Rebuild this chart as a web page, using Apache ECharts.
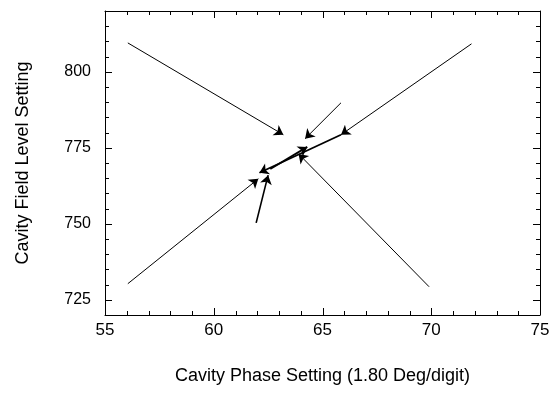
<!DOCTYPE html>
<html>
<head>
<meta charset="utf-8">
<script src="https://cdn.jsdelivr.net/npm/echarts@6/dist/echarts.min.js"></script>
<style>html,body{margin:0;padding:0;background:#fff}#c{width:555px;height:393px}</style>
</head>
<body>
<div id="c"></div>
<script>
// Arrow start/end points (phase setting, field level setting)
const startX = [56.05, 71.85, 65.85, 56.05, 69.9, 61.95, 65.85, 62.6];
const startY = [809.5, 809.2, 789.8, 730.3, 729.3, 750.3, 779.3, 768.0];
const endX   = [63.2, 65.85, 64.2, 62.05, 63.9, 62.5, 62.1, 64.3];
const endY   = [779.3, 779.3, 778.0, 764.8, 773.0, 766.0, 766.8, 775.3];
const lineW  = [1, 1, 1, 1, 1, 1.6, 1.8, 1.8];
// Tick positions
const xMajorTicks = [55, 60, 65, 70, 75];
const xMinorTicks = [56, 57, 58, 59, 61, 62, 63, 64, 66, 67, 68, 69, 71, 72, 73, 74];
const yTickLabels = [725, 750, 775, 800];
const yMinorTicks = [720, 730, 735, 740, 745, 755, 760, 765, 770, 780, 785, 790, 795, 805, 810, 815, 820];

const X_MIN = 55, X_MAX = 75, Y_MIN = 720, Y_MAX = 820;
const font = 'Liberation Sans, Arial, sans-serif';
const arrows = startX.map((x, i) => ({
  coords: [[x, startY[i]], [endX[i], endY[i]]],
  lineStyle: { width: lineW[i] }
}));

function seg(x1, y1, x2, y2) {
  return { type: 'line', shape: { x1, y1, x2, y2 }, style: { stroke: '#000', lineWidth: 1 } };
}
function xTickSeries(values, len) {
  return {
    type: 'custom', coordinateSystem: 'cartesian2d', silent: true, clip: false, z: 5,
    data: values.map(v => [v, Y_MIN]),
    encode: { x: 0, y: 1 },
    renderItem: (params, api) => {
      const v = api.value(0);
      const b = api.coord([v, Y_MIN]), t = api.coord([v, Y_MAX]);
      const x = Math.round(b[0]) + 0.5;
      return { type: 'group', children: [seg(x, b[1], x, b[1] - len), seg(x, t[1], x, t[1] + len)] };
    }
  };
}
function yTickSeries(values, len) {
  return {
    type: 'custom', coordinateSystem: 'cartesian2d', silent: true, clip: false, z: 5,
    data: values.map(v => [X_MIN, v]),
    encode: { x: 0, y: 1 },
    renderItem: (params, api) => {
      const v = api.value(1);
      const l = api.coord([X_MIN, v]), r = api.coord([X_MAX, v]);
      const y = Math.round(l[1]) + 0.5;
      return { type: 'group', children: [seg(l[0], y, l[0] + len, y), seg(r[0], y, r[0] - len, y)] };
    }
  };
}

function xAx(pos, withLabels) {
  const a = {
    type: 'value', min: X_MIN, max: X_MAX, interval: 5, position: pos,
    axisLine: { show: true, lineStyle: { color: '#000' } },
    axisTick: { show: false }, minorTick: { show: false },
    splitLine: { show: false },
    axisLabel: withLabels ? { color: '#000', fontSize: 17, fontFamily: font, margin: 7 } : { show: false }
  };
  if (withLabels) {
    a.name = 'Cavity Phase Setting (1.80 Deg/digit)';
    a.nameLocation = 'middle';
    a.nameGap = 52;
    a.nameTextStyle = { color: '#000', fontSize: 18, fontFamily: font };
  }
  return a;
}
function yAx(pos, withLabels) {
  const a = {
    type: 'value', min: Y_MIN, max: Y_MAX, interval: 5, position: pos,
    axisLine: { show: true, lineStyle: { color: '#000' } },
    axisTick: { show: false },
    splitLine: { show: false },
    axisLabel: withLabels ? { color: '#000', fontSize: 16, fontFamily: font, margin: 14,
      formatter: v => (yTickLabels.indexOf(v) >= 0 ? String(v) : '') } : { show: false }
  };
  if (withLabels) {
    a.name = 'Cavity Field Level Setting';
    a.nameLocation = 'middle';
    a.nameGap = 73;
    a.nameTextStyle = { color: '#000', fontSize: 18, fontFamily: font };
  }
  return a;
}

const chart = echarts.init(document.getElementById('c'));
chart.setOption({
  animation: false,
  grid: { left: 105, right: 15, top: 11, bottom: 78 },
  xAxis: [xAx('bottom', true), xAx('top', false)],
  yAxis: [yAx('left', true), yAx('right', false)],
  series: [
    xTickSeries(xMajorTicks, 7),
    xTickSeries(xMinorTicks, 4),
    yTickSeries(yTickLabels, 7),
    yTickSeries(yMinorTicks, 4),
    {
      type: 'lines',
      coordinateSystem: 'cartesian2d',
      xAxisIndex: 0, yAxisIndex: 0,
      symbol: ['none', 'arrow'],
      symbolSize: [0, 9],
      lineStyle: { color: '#000', width: 1, opacity: 1, curveness: 0 },
      data: arrows
    }
  ]
});
</script>
</body>
</html>
